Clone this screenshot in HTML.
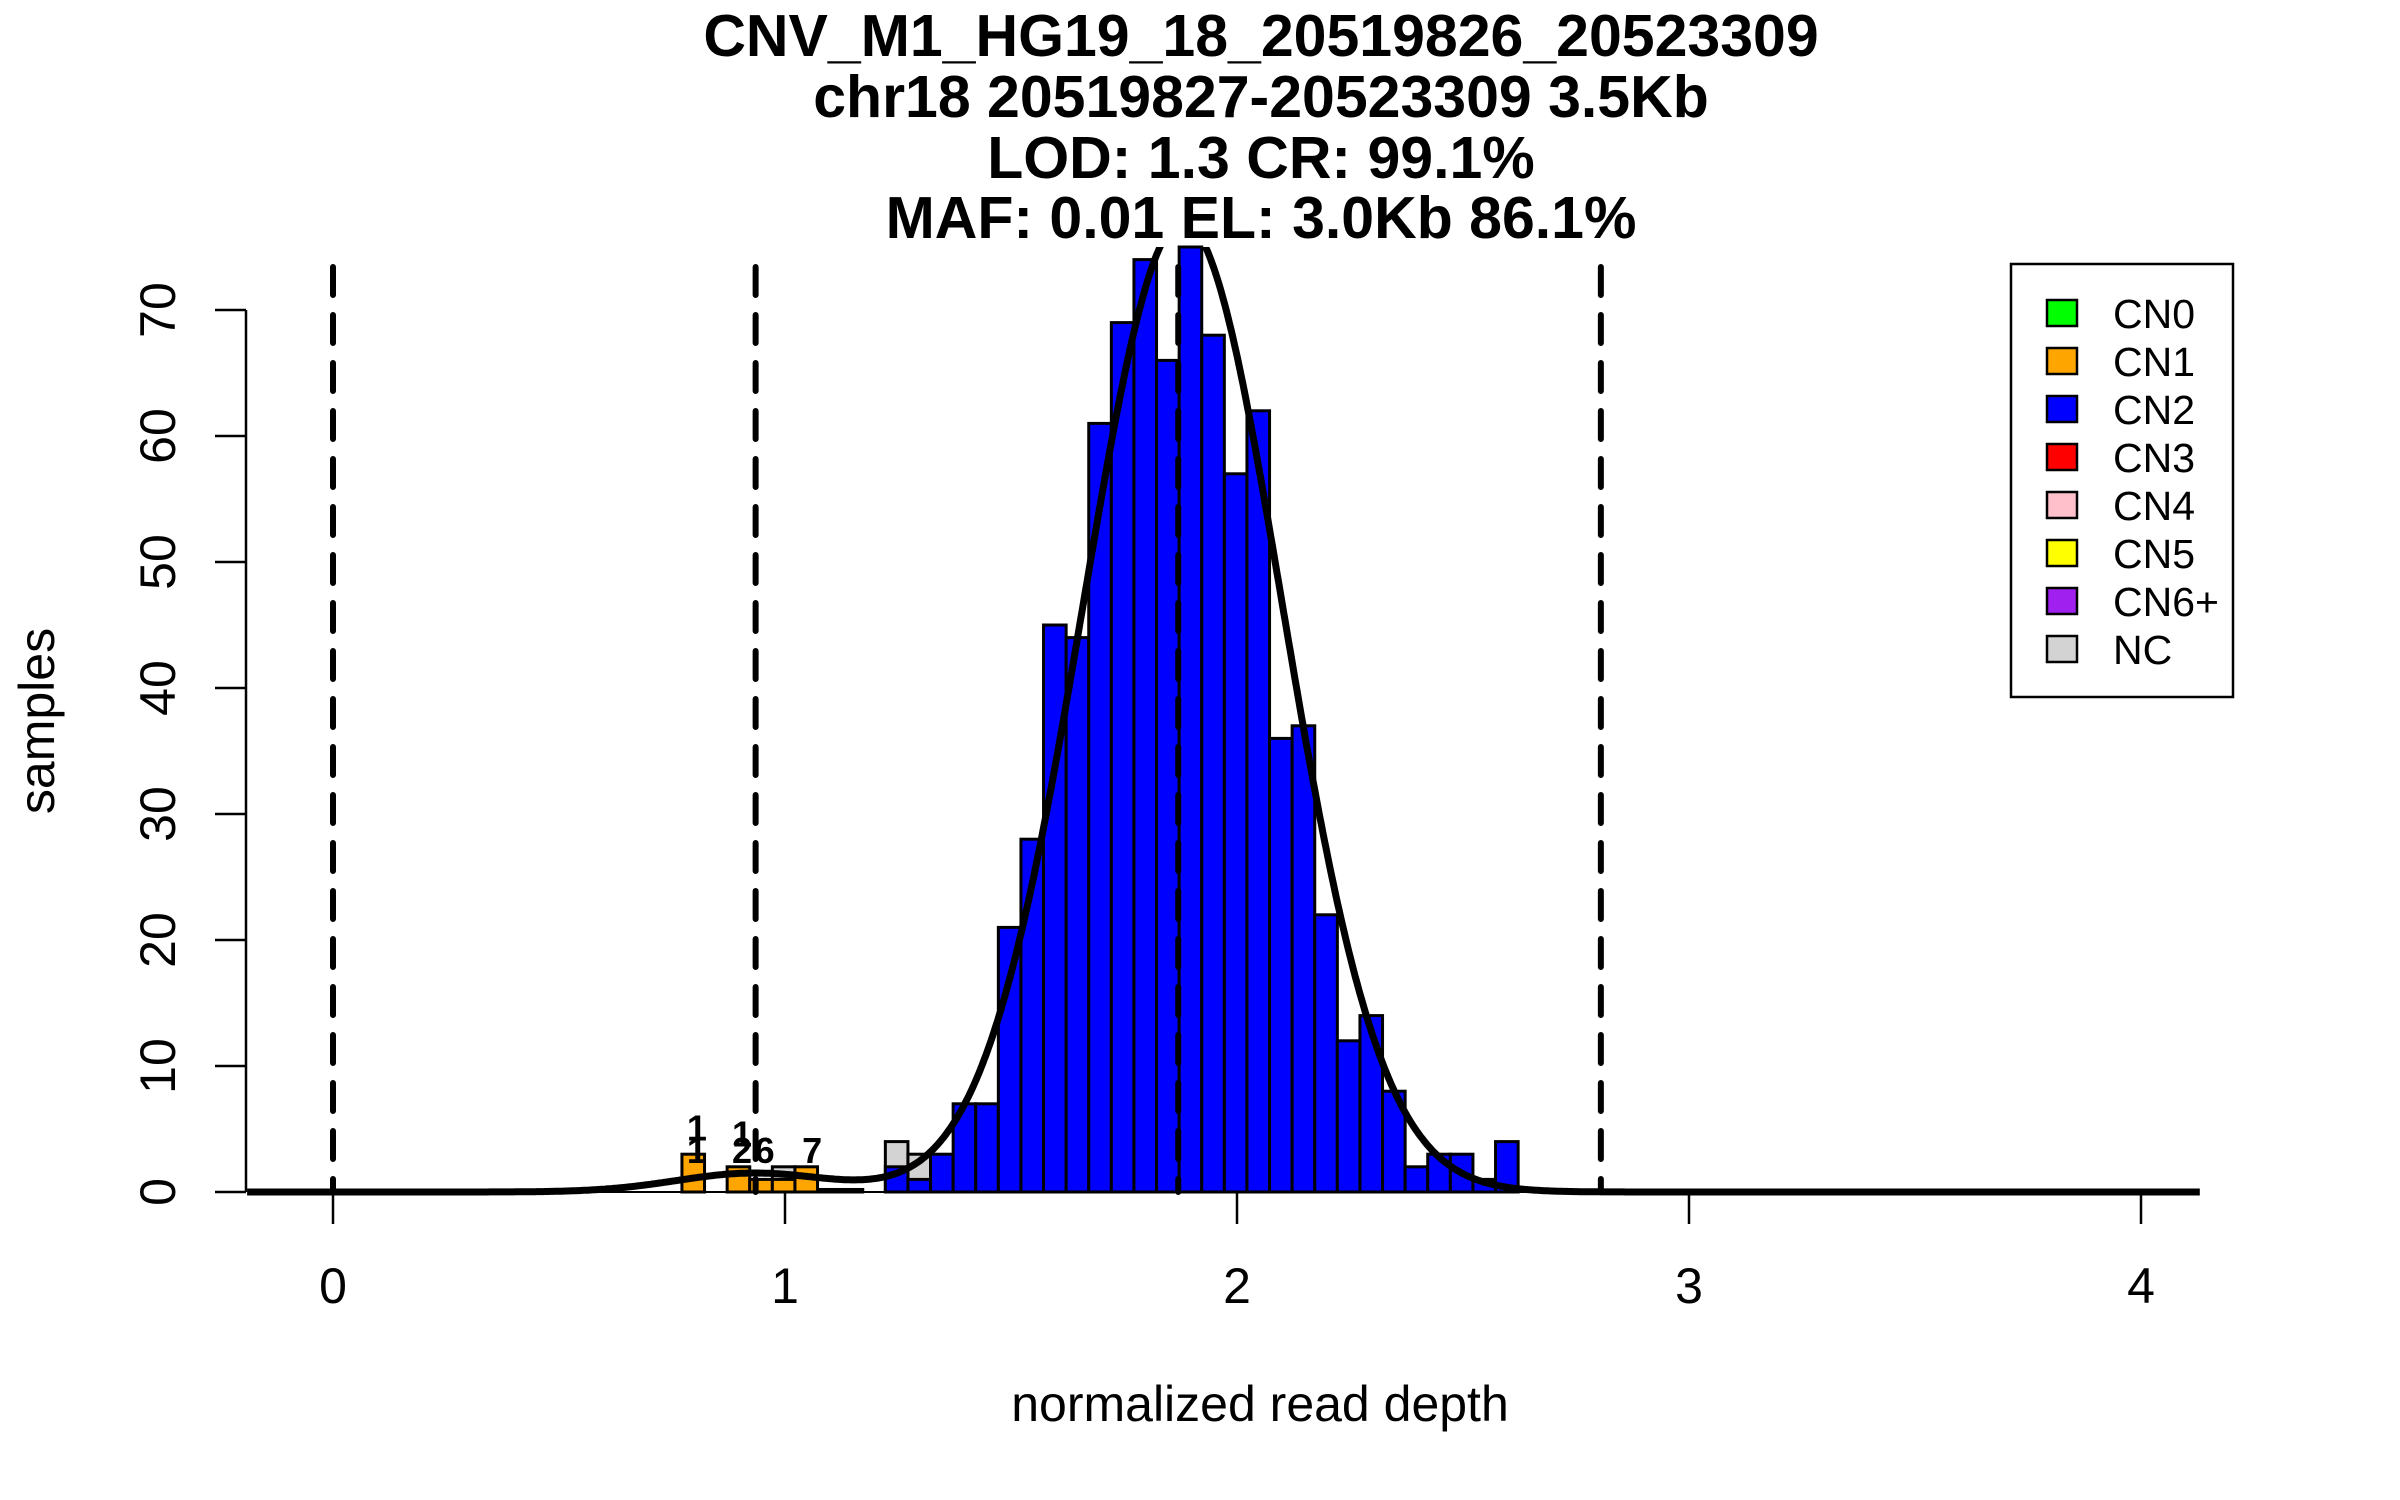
<!DOCTYPE html>
<html><head><meta charset="utf-8">
<style>
html,body{margin:0;padding:0;background:#fff;}
svg{display:block;font-family:"Liberation Sans",Arial,sans-serif;}
</style></head>
<body>
<svg id="chart" width="2400" height="1500" viewBox="0 0 2400 1500" xmlns="http://www.w3.org/2000/svg">
  <g font-weight="bold" font-size="59" text-anchor="middle" fill="#000">
    <text x="1261" y="56">CNV_M1_HG19_18_20519826_20523309</text>
    <text x="1261" y="117">chr18 20519827-20523309 3.5Kb</text>
    <text x="1261" y="178">LOD: 1.3 CR: 99.1%</text>
    <text x="1261" y="238">MAF: 0.01 EL: 3.0Kb 86.1%</text>
  </g>
  <g id="bars"></g>
  <g id="curves"></g>
  <g id="dashes"></g>
  <g id="axes"></g>
  <g id="labels" font-weight="bold" font-size="36" text-anchor="middle"></g>
  <text x="1260" y="1421" font-size="50" text-anchor="middle">normalized read depth</text>
  <text transform="translate(54,721) rotate(-90)" font-size="50" text-anchor="middle">samples</text>
  <g id="legend"></g>
</svg>
<script>
const binWidth = 0.05;
const cn2Starts = [1.222,1.272,1.322,1.372,1.422,1.472,1.522,1.572,1.622,1.672,1.722,1.772,1.822,1.872,1.922,1.972,2.022,2.072,2.122,2.172,2.222,2.272,2.322,2.372,2.422,2.472,2.522,2.572];
const cn2Counts = [2,1,3,7,7,21,28,45,44,61,69,74,66,75,68,57,62,36,37,22,12,14,8,2,3,3,1,4];
const cn1Starts = [0.772,0.872,0.922,0.972,1.022];
const cn1Counts = [3,2,1,1,2];
const ncStarts = [0.972,1.072,1.122,1.222,1.272];
const ncCounts = [2,0.2,0.2,4,3];
const thresholds = [0, 0.935, 1.87, 2.805];
const xTicks = [0,1,2,3,4];
const yTicks = [0,10,20,30,40,50,60,70];
const curveMeans = [0.93, 1.88];
const curveSds = [0.17, 0.22];
const curvePeaks = [1.5, 77];
const barLabelText = ["1","1","1","2","6","7"];
const barLabelX = [0.805,0.805,0.905,0.905,0.955,1.06];
const barLabelY = [4.1,2.3,3.6,2.3,2.3,2.3];
const legendNames = ["CN0","CN1","CN2","CN3","CN4","CN5","CN6+","NC"];
const legendColors = ["#00ff00","#ffa500","#0000ff","#ff0000","#ffc0cb","#ffff00","#a020f0","#d3d3d3"];

const NS = "http://www.w3.org/2000/svg";
const X0 = 333, XS = 452, Y0 = 1192, YS = 12.6, PLOT_TOP = 247;
const xPx = v => X0 + v * XS;
const yPx = v => Y0 - v * YS;
function mk(tag, attrs, parent){ const e = document.createElementNS(NS, tag); for (const k in attrs) e.setAttribute(k, attrs[k]); parent.appendChild(e); return e; }

const bars = document.getElementById('bars');
function drawBars(starts, counts, color, name){
  starts.forEach((s,i)=>{
    const h = counts[i]; if (h <= 0) return;
    const r = mk('rect', {x:xPx(s), y:yPx(h), width:binWidth*XS, height:h*YS, fill:color, stroke:'#000', 'stroke-width':3}, bars);
    
    
  });
}
drawBars(ncStarts, ncCounts, '#d3d3d3', 'bar-nc');
drawBars(cn1Starts, cn1Counts, '#ffa500', 'bar-cn1');
drawBars(cn2Starts, cn2Counts, '#0000ff', 'bar-cn2');

const curves = document.getElementById('curves');
const defs = mk('defs', {}, document.getElementById('chart'));
const cp = mk('clipPath', {id:'plotclip'}, defs);
mk('rect', {x:0, y:PLOT_TOP, width:2400, height:1500-PLOT_TOP}, cp);
let d = '';
const xStart = -0.19, xEnd = 4.13;
for (let i = 0; i <= 1200; i++){
  const v = xStart + i * ((xEnd - xStart)/1200);
  let y = 0;
  for (let k = 0; k < curveMeans.length; k++) y += curvePeaks[k] * Math.exp(-Math.pow(v-curveMeans[k],2)/(2*curveSds[k]*curveSds[k]));
  d += (i ? 'L' : 'M') + xPx(v).toFixed(1) + ' ' + yPx(y).toFixed(1);
}
const cpath = mk('path', {d:d, fill:'none', stroke:'#000', 'stroke-width':7, 'clip-path':'url(#plotclip)', 'stroke-linejoin':'round'}, curves);



const dashes = document.getElementById('dashes');
thresholds.forEach(t=>{
  const l = mk('line', {x1:xPx(t), x2:xPx(t), y1:267, y2:Y0, stroke:'#000', 'stroke-width':6, 'stroke-dasharray':'28 20', 'stroke-linecap':'round'}, dashes);
  
  
});

const axes = document.getElementById('axes');
const xl = mk('line', {x1:xPx(xTicks[0]), x2:xPx(xTicks[xTicks.length-1]), y1:Y0, y2:Y0, stroke:'#000', 'stroke-width':2}, axes);


xTicks.forEach(t=>{
  const tk = mk('line', {x1:xPx(t), x2:xPx(t), y1:Y0, y2:Y0+32, stroke:'#000', 'stroke-width':2.5}, axes);
  
  
  const tx = mk('text', {x:xPx(t), y:1303, 'font-size':50, 'text-anchor':'middle'}, axes);
  
  
  tx.textContent = String(t);
});
const yl = mk('line', {x1:246, x2:246, y1:yPx(yTicks[0]), y2:yPx(yTicks[yTicks.length-1]), stroke:'#000', 'stroke-width':2.5}, axes);


yTicks.forEach(t=>{
  const tk = mk('line', {x1:215, x2:246, y1:yPx(t), y2:yPx(t), stroke:'#000', 'stroke-width':2.5}, axes);
  
  
  const tx = mk('text', {transform:'translate(175,'+yPx(t)+') rotate(-90)', 'font-size':50, 'text-anchor':'middle'}, axes);
  
  
  tx.textContent = String(t);
});

const labels = document.getElementById('labels');
barLabelText.forEach((s,i)=>{
  const t = mk('text', {x:xPx(barLabelX[i]), y:yPx(barLabelY[i])}, labels);
  
  
  t.textContent = s;
});

const legend = document.getElementById('legend');
const lb = mk('rect', {x:2011, y:264, width:222, height:433, fill:'#fff', stroke:'#000', 'stroke-width':2.5}, legend);


legendNames.forEach((n,i)=>{
  const cy = 313 + i*48;
  const sw = mk('rect', {x:2047, y:cy-13, width:30, height:26, fill:legendColors[i], stroke:'#000', 'stroke-width':2.5}, legend);
  
  
  const t = mk('text', {x:2113, y:cy+15, 'font-size':41}, legend);
  
  
  t.textContent = n;
});
</script>
</body></html>
